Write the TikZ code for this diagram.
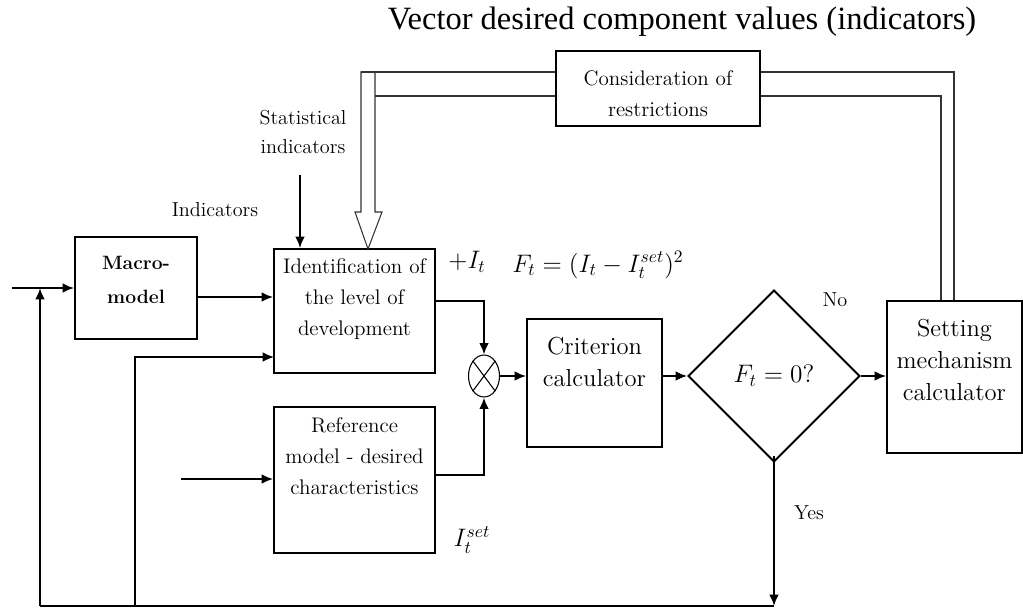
\documentclass[tikz,border=0pt]{standalone}
\usepackage{fontspec}
\usepackage{amsmath}
\usetikzlibrary{shapes.geometric,calc,arrows.meta}
\newfontfamily\titlefont{Liberation Serif}

\begin{document}
\begin{tikzpicture}[x=0.02cm,y=-0.02cm,>={Latex[length=6.5pt,width=5.5pt]},
    blk/.style={draw,line width=1.1pt,inner sep=0pt},
    lbl/.style={align=center,font=\fontsize{12}{17.6}\selectfont},
    big/.style={align=center,font=\fontsize{14}{18}\selectfont},
    small/.style={align=center,font=\fontsize{11.5}{16.4}\selectfont},
    flow/.style={line width=1.1pt,->},
    back/.style={line width=0.7pt,->},
    dbl/.style={line width=0.6pt,draw=black!80}]
  \useasboundingbox (0,0) rectangle (1023,608);

  % blocks
  \node[blk,minimum width=2.44cm,minimum height=2.04cm] (macro) at (136,288) {};
  \node[small,font=\fontsize{11}{19.8}\selectfont\bfseries] at (136,280) {Macro-\\model};
  \node[blk,minimum width=3.22cm,minimum height=2.48cm] (ident) at (354.5,311) {};
  \node[lbl] at (354.5,299) {Identification of\\the level of\\development};
  \node[blk,minimum width=3.22cm,minimum height=2.92cm] (ref) at (354.5,480) {};
  \node[lbl] at (354.5,456) {Reference\\model - desired\\characteristics};
  \node[blk,minimum width=2.7cm,minimum height=2.56cm] (crit) at (594.5,383) {};
  \node[big] at (594.5,362) {Criterion\\calculator};
  \node[blk,diamond,minimum width=3.44cm,minimum height=3.44cm,big] (dec) at (774,376) {$F_t =0?$};
  \node[blk,minimum width=2.7cm,minimum height=3.04cm] (set) at (954.5,377) {};
  \node[big] at (954.5,360) {Setting\\mechanism\\calculator};
  \node[blk,minimum width=4.08cm,minimum height=1.5cm] (cons) at (658,88.5) {};
  \node[lbl] at (658,94) {Consideration of\\restrictions};
  \node[draw,ellipse,line width=0.6pt,inner sep=0pt,minimum width=0.62cm,minimum height=0.84cm] (sum) at (484,376) {};
  \draw[line width=0.6pt] (sum.north east) -- (sum.south west) (sum.north west) -- (sum.south east);

  % free ends
  \coordinate (in) at (12,288);
  \coordinate (fbl) at (40,606);
  \coordinate (fbm) at (135,606);
  \coordinate (fbr) at (774,606);
  \coordinate (fbin) at (274,357);
  \coordinate (refin) at (181,479);
  \coordinate (statin) at (300,175);
  \coordinate (ro) at (954,72);
  \coordinate (ri) at (941,96);
  \coordinate (lo) at (361,72);
  \coordinate (li) at (375,96);

  % connectors
  \draw[flow] (in) -- (macro.west);
  \draw[flow] (fbl) -- (fbl |- in);
  \draw[line width=1.1pt] (fbl) -- (fbr);
  \draw[flow] ([yshift=4]dec.south) -- (fbr);
  \draw[back] (fbm) |- (fbin);
  \draw[flow] ($(macro.east)+(0,9)$) -- ($(ident.west)+(0,-14)$);
  \draw[flow] (statin) -- (statin |- ident.north);
  \draw[flow] ($(ident.east)+(0,-10)$) -| (sum.north);
  \draw[flow] ($(ref.east)+(0,-5)$) -| (sum.south);
  \draw[flow] (refin) -- (refin -| ref.west);
  \draw[flow] (sum.east) -- (sum -| crit.west);
  \draw[flow] (crit.east |- dec) -- (dec.west);
  \draw[flow] (dec.east) -- (dec.east -| set.west);

  % double feedback line and hollow arrow
  \draw[dbl] (set.north -| ro) -- (ro) -- (ro -| cons.east);
  \draw[dbl] (set.north -| ri) -- (ri) -- (ri -| cons.east);
  \draw[dbl] (cons.west |- lo) -- (lo);
  \draw[dbl] (cons.west |- li) -- (li);
  \draw[dbl] (lo) -- (li |- lo) -- (375,212) -- (382,212) -- (368,249)
    -- (355,212) -- (361,212) -- cycle;

  % labels
  \node[font=\titlefont\fontsize{18.5}{22}\selectfont] (title) at (682,22) {Vector desired component values (indicators)};
  \node[small] (statlbl) at (303,132) {Statistical\\indicators};
  \node[small] (indlbl) at (215,210) {Indicators};
  \node[big] (itlbl) at (467,262) {$+I_t$};
  \node[big] (flbl) at (598,265) {$F_t = (I_t - I_t^{set})^2$};
  \node[big] (setlbl) at (472,540) {$I_t^{set}$};
  \node[small] (nolbl) at (835,300) {No};
  \node[small] (yeslbl) at (809,513) {Yes};
\end{tikzpicture}
\end{document}
